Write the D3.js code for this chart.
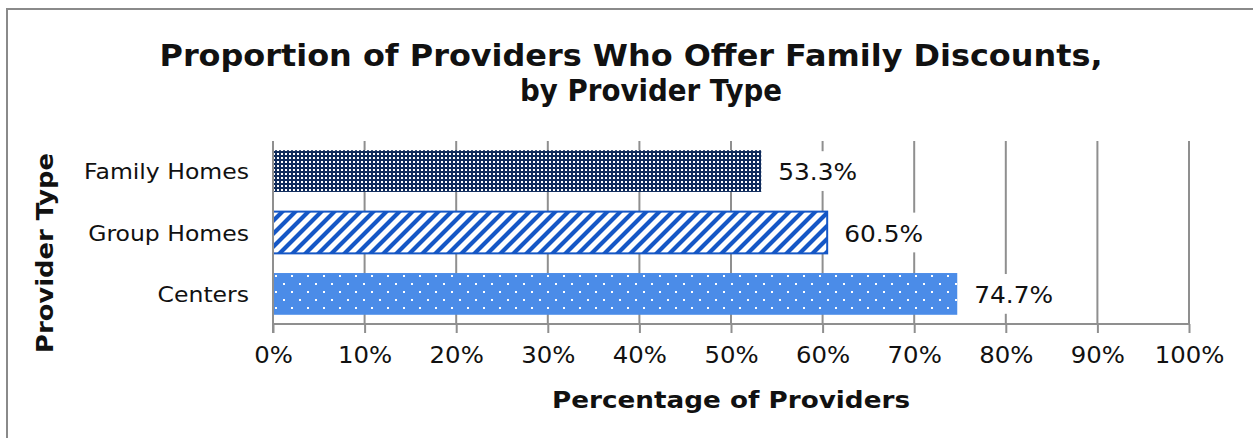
<!DOCTYPE html>
<html>
<head>
<meta charset="UTF-8">
<title>Family Discounts by Provider Type</title>
<script src="https://d3js.org/d3.v7.min.js"></script>
<style>
  body { margin: 0; background: #fff; }
  svg text { font-family: "DejaVu Sans", Verdana, sans-serif; fill: #111; }
</style>
</head>
<body>
<script>
// data
var categories = ["Family Homes", "Group Homes", "Centers"];
var values = [53.3, 60.5, 74.7];
var tickValues = [0, 10, 20, 30, 40, 50, 60, 70, 80, 90, 100];
var fills = ["url(#dotsDark)", "url(#stripes)", "url(#dotsLight)"];

var width = 1253, height = 438;
var margin = { left: 273, right: 64, top: 141, bottom: 114 };
var gridColor = "#8f8f8f";

var svg = d3.select("body").append("svg")
  .attr("width", width)
  .attr("height", height);

// stretch text horizontally so it fills like the original
function stretch(sel, k) {
  sel.each(function () {
    var w = this.getComputedTextLength();
    d3.select(this).attr("textLength", w * k).attr("lengthAdjust", "spacingAndGlyphs");
  });
}

// patterns
var defs = svg.append("defs");
var p1 = defs.append("pattern").attr("id", "dotsDark")
  .attr("patternUnits", "userSpaceOnUse").attr("width", 4).attr("height", 4);
p1.append("rect").attr("width", 4).attr("height", 4).attr("fill", "#0f2b5b");
p1.append("rect").attr("x", 1).attr("y", 1).attr("width", 2).attr("height", 2).attr("fill", "#fff");

var p2 = defs.append("pattern").attr("id", "stripes")
  .attr("patternUnits", "userSpaceOnUse").attr("width", 13).attr("height", 13);
p2.append("rect").attr("width", 13).attr("height", 13).attr("fill", "#fff");
p2.append("path").attr("d", "M-4,4 L4,-4 M0,13 L13,0 M9,17 L17,9")
  .attr("stroke", "#1557c6").attr("stroke-width", 4.2);

var p3 = defs.append("pattern").attr("id", "dotsLight")
  .attr("patternUnits", "userSpaceOnUse").attr("width", 16).attr("height", 16);
p3.append("rect").attr("width", 16).attr("height", 16).attr("fill", "#4b8ce8");
p3.append("rect").attr("x", 3).attr("y", 3).attr("width", 2).attr("height", 2).attr("fill", "#fff");
p3.append("rect").attr("x", 11).attr("y", 11).attr("width", 2).attr("height", 2).attr("fill", "#fff");

// outer border
svg.append("rect")
  .attr("x", 7).attr("y", 9)
  .attr("width", width + 20).attr("height", height + 20)
  .attr("fill", "none").attr("stroke", "#8a8a8a").attr("stroke-width", 2);

// scales
var x = d3.scaleLinear().domain([0, 100]).range([margin.left, width - margin.right]);
var y = d3.scaleBand().domain(categories)
  .range([margin.top, height - margin.bottom])
  .paddingInner(0.32).paddingOuter(0.15);

// gridlines
svg.append("g").selectAll("line")
  .data(tickValues.slice(1))
  .join("line")
  .attr("x1", d => x(d)).attr("x2", d => x(d))
  .attr("y1", margin.top).attr("y2", height - margin.bottom)
  .attr("stroke", gridColor).attr("stroke-width", 2);

// bars
svg.append("g").selectAll("rect")
  .data(values)
  .join("rect")
  .attr("x", x(0))
  .attr("y", (d, i) => y(categories[i]))
  .attr("width", d => x(d) - x(0))
  .attr("height", y.bandwidth())
  .attr("fill", (d, i) => fills[i])
  .attr("stroke", (d, i) => i === 1 ? "#1557c6" : "none")
  .attr("stroke-width", 2);

// value labels with white backing (they cut the gridlines)
var lab = svg.append("g").selectAll("g")
  .data(values)
  .join("g");
lab.append("rect")
  .attr("x", d => x(d) + 12)
  .attr("y", (d, i) => y(categories[i]) + 1)
  .attr("width", 90)
  .attr("height", y.bandwidth() - 2)
  .attr("fill", "#fff");
lab.append("text")
  .attr("x", d => x(d) + 17)
  .attr("y", (d, i) => y(categories[i]) + y.bandwidth() / 2 + 9)
  .style("font-size", "23px")
  .text(d => d.toFixed(1) + "%")
  .call(stretch, 1.08);

// x axis
var xAxis = svg.append("g")
  .attr("transform", "translate(0," + (height - margin.bottom) + ")")
  .call(d3.axisBottom(x).tickValues(tickValues).tickSize(9).tickPadding(14).tickFormat(d => d + "%"));
xAxis.select(".domain").attr("stroke", gridColor).attr("stroke-width", 2)
  .attr("d", "M" + x(0) + ",0H" + x(100));
xAxis.selectAll(".tick line").attr("stroke", gridColor).attr("stroke-width", 2);
xAxis.selectAll(".tick text")
  .style("font-size", "23px").attr("fill", "#111")
  .call(stretch, 1.06);

// y axis line
svg.append("line")
  .attr("x1", x(0)).attr("x2", x(0))
  .attr("y1", margin.top).attr("y2", height - margin.bottom + 9)
  .attr("stroke", gridColor).attr("stroke-width", 2);

// category labels
svg.append("g").selectAll("text")
  .data(categories)
  .join("text")
  .attr("x", x(0) - 24)
  .attr("y", d => y(d) + y.bandwidth() / 2 + 8)
  .attr("text-anchor", "end")
  .style("font-size", "21px")
  .text(d => d)
  .call(stretch, 1.12);

// titles
svg.append("text")
  .attr("x", 631).attr("y", 66)
  .attr("text-anchor", "middle")
  .style("font-size", "31px").style("font-weight", "bold")
  .attr("textLength", 943).attr("lengthAdjust", "spacingAndGlyphs")
  .text("Proportion of Providers Who Offer Family Discounts,");
svg.append("text")
  .attr("x", 651).attr("y", 101)
  .attr("text-anchor", "middle")
  .style("font-size", "31px").style("font-weight", "bold")
  .attr("textLength", 262).attr("lengthAdjust", "spacingAndGlyphs")
  .text("by Provider Type");

svg.append("text")
  .attr("x", 731).attr("y", 408)
  .attr("text-anchor", "middle")
  .style("font-size", "23px").style("font-weight", "bold")
  .attr("textLength", 358).attr("lengthAdjust", "spacingAndGlyphs")
  .text("Percentage of Providers");

svg.append("text")
  .attr("transform", "translate(53,253) rotate(-90)")
  .attr("text-anchor", "middle")
  .style("font-size", "23px").style("font-weight", "bold")
  .attr("textLength", 200).attr("lengthAdjust", "spacingAndGlyphs")
  .text("Provider Type");
</script>
</body>
</html>
